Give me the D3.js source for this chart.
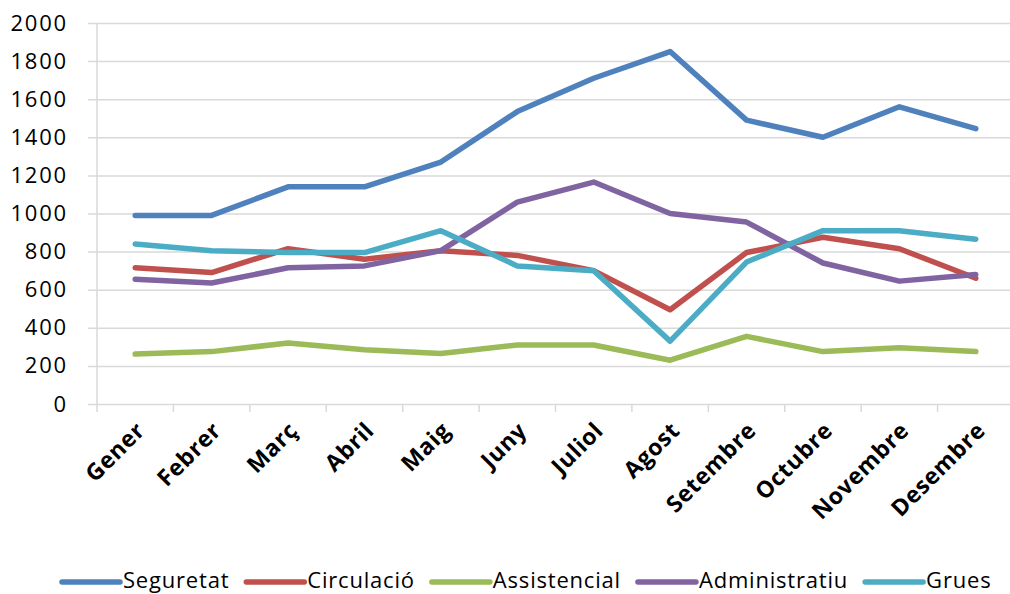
<!DOCTYPE html>
<html>
<head>
<meta charset="utf-8">
<script src="https://cdn.jsdelivr.net/npm/d3@7"></script>
<style>
  body { margin: 0; background: #fff; }
  svg { display: block; font-family: "Open Sans", sans-serif; }
</style>
</head>
<body>
<div id="chart"></div>
<script>
// data
var months = ["Gener", "Febrer", "Març", "Abril", "Maig", "Juny", "Juliol", "Agost", "Setembre", "Octubre", "Novembre", "Desembre"];
var seguretat = [990, 990, 1140, 1140, 1270, 1535, 1710, 1850, 1490, 1400, 1560, 1445];
var circulacio = [715, 690, 815, 760, 805, 780, 700, 495, 795, 875, 815, 660];
var assistencial = [262, 275, 320, 285, 265, 310, 310, 230, 355, 275, 295, 275];
var administratiu = [655, 635, 715, 725, 805, 1060, 1165, 1000, 955, 740, 645, 680];
var grues = [840, 805, 795, 795, 910, 725, 700, 330, 745, 910, 910, 865];
var seriesNames = ["Seguretat", "Circulació", "Assistencial", "Administratiu", "Grues"];
var yTicks = [0, 200, 400, 600, 800, 1000, 1200, 1400, 1600, 1800, 2000];

var series = [seguretat, circulacio, assistencial, administratiu, grues];
var colors = ["#4F81BD", "#C0504D", "#9BBB59", "#8064A2", "#4BACC6"];

var svgWidth = 1010;
var svgHeight = 594;

var svg = d3.select("#chart")
  .append("svg")
  .attr("width", svgWidth)
  .attr("height", svgHeight);

// scales
var x = d3.scaleBand().domain(months).range([97, 1014]).padding(0);
var y = d3.scaleLinear().domain([0, 2000]).range([404, 23]);
var cx = function(m) { return x(m) + x.bandwidth() / 2; };

// gridlines + y labels
var yAxis = d3.axisLeft(y)
  .tickValues(yTicks)
  .tickSize(-(1014 - 88))
  .tickPadding(20)
  .tickFormat(d3.format("d"));

var gy = svg.append("g")
  .attr("transform", "translate(88,0)")
  .call(yAxis);
gy.select(".domain").remove();
gy.selectAll(".tick line")
  .attr("stroke", "#d9d9d9")
  .attr("stroke-width", 1.5);
gy.selectAll(".tick text")
  .attr("font-size", "22px")
  .attr("letter-spacing", "1.8px")
  .attr("fill", "#000")
  .style("font-family", "'Open Sans', sans-serif");

// vertical axis line
svg.append("line")
  .attr("x1", 97).attr("x2", 97)
  .attr("y1", y(2000)).attr("y2", y(0))
  .attr("stroke", "#d9d9d9")
  .attr("stroke-width", 1.5);

// category boundary ticks
var bounds = months.map(function(m) { return x(m); }).concat([x.range()[1]]);
svg.append("g")
  .selectAll("line")
  .data(bounds)
  .enter()
  .append("line")
  .attr("x1", d => d).attr("x2", d => d)
  .attr("y1", y(0)).attr("y2", y(0) + 8)
  .attr("stroke", "#d9d9d9")
  .attr("stroke-width", 1.5);

// x labels
svg.append("g")
  .selectAll("text")
  .data(months)
  .enter()
  .append("text")
  .attr("transform", d => "translate(" + (cx(d) + 11) + "," + 432 + ") rotate(-45)")
  .attr("text-anchor", "end")
  .attr("font-size", "23px")
  .attr("letter-spacing", "0.6px")
  .attr("font-weight", "bold")
  .attr("fill", "#000")
  .text(d => d);

// lines
var line = d3.line()
  .x((d, i) => cx(months[i]))
  .y(d => y(d));

svg.append("g")
  .selectAll("path")
  .data(series)
  .enter()
  .append("path")
  .attr("d", line)
  .attr("fill", "none")
  .attr("stroke", (d, i) => colors[i])
  .attr("stroke-width", 5.5)
  .attr("stroke-linecap", "round")
  .attr("stroke-linejoin", "round");

// legend
var legend = svg.append("g");
var lx = 62;
seriesNames.forEach(function(name, i) {
  legend.append("line")
    .attr("x1", lx).attr("x2", lx + 58)
    .attr("y1", 582).attr("y2", 582)
    .attr("stroke", colors[i])
    .attr("stroke-width", 5.5)
    .attr("stroke-linecap", "round");
  var t = legend.append("text")
    .attr("x", lx + 61)
    .attr("y", 588)
    .attr("font-size", "22px")
    .attr("letter-spacing", "0.8px")
    .attr("fill", "#000")
    .text(name);
  lx += 61 + t.node().getComputedTextLength() + 17;
});
</script>
</body>
</html>
